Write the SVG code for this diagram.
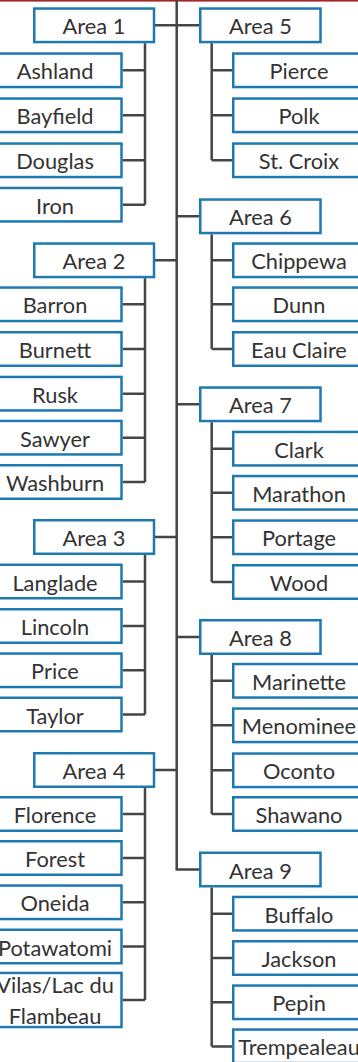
<svg xmlns="http://www.w3.org/2000/svg" width="358" height="1062" viewBox="0 0 358 1062">
<style>
.b{fill:#fff;stroke:#1c7ab0;stroke-width:2.5}
.t{font-family:Lato,"Open Sans","Liberation Sans",sans-serif;font-size:21.8px;font-weight:400;fill:#333;text-anchor:middle}
.c{fill:none;stroke:#454545;stroke-width:2.5}
</style>
<rect x="0" y="0" width="358" height="1.6" fill="#a3262b"/>
<g id="connectors" class="c">
<path d="M176.7 0V869.5H199"/>
<path d="M155 25.3H199M155 260.3H176.7M155 537H176.7M155 770H176.7M176.7 216.3H199M176.7 404.3H199M176.7 637H199"/>
<path d="M145 43.3V204.7M122.7 70.3H145M122.7 115.3H145M122.7 160.3H145M122.7 204.7H145"/>
<path d="M145 278.3V482M122.7 304.3H145M122.7 349H145M122.7 393.7H145M122.7 437.7H145M122.7 482H145"/>
<path d="M145 555V714.5M122.7 581.5H145M122.7 626H145M122.7 670.3H145M122.7 714.5H145"/>
<path d="M145 788V1000M122.7 814H145M122.7 858H145M122.7 902.3H145M122.7 946.5H145M122.7 1000H145"/>
<path d="M211.7 43.3V160.3M211.7 70.3H232M211.7 115.3H232M211.7 160.3H232"/>
<path d="M211.7 234.3V349M211.7 260.3H232M211.7 304.3H232M211.7 349H232"/>
<path d="M211.7 422.3V582M211.7 448.7H232M211.7 492.8H232M211.7 537.3H232M211.7 582H232"/>
<path d="M211.7 655V814M211.7 680.8H232M211.7 725.3H232M211.7 770.3H232M211.7 814H232"/>
<path d="M211.7 887.5V1046.5M211.7 913.7H232M211.7 958H232M211.7 1002.3H232M211.7 1046.5H232"/>
</g>
<g id="area1"><rect class="b" x="34.25" y="8.55" width="119.75" height="33.5"/><text class="t" x="94" y="34.3">Area 1</text></g>
<g id="ashland"><rect class="b" x="-10" y="53.55" width="131.5" height="33.5"/><text class="t" x="55" y="79.3">Ashland</text></g>
<g id="bayfield"><rect class="b" x="-10" y="98.55" width="131.5" height="33.5"/><text class="t" x="55" y="124.3">Bayfield</text></g>
<g id="douglas"><rect class="b" x="-10" y="143.55" width="131.5" height="33.5"/><text class="t" x="55" y="169.3">Douglas</text></g>
<g id="iron"><rect class="b" x="-10" y="187.95" width="131.5" height="33.5"/><text class="t" x="55" y="213.7">Iron</text></g>
<g id="area2"><rect class="b" x="34.25" y="243.55" width="119.75" height="33.5"/><text class="t" x="94" y="269.3">Area 2</text></g>
<g id="barron"><rect class="b" x="-10" y="287.55" width="131.5" height="33.5"/><text class="t" x="55" y="313.3">Barron</text></g>
<g id="burnett"><rect class="b" x="-10" y="332.25" width="131.5" height="33.5"/><text class="t" x="55" y="358">Burnett</text></g>
<g id="rusk"><rect class="b" x="-10" y="376.95" width="131.5" height="33.5"/><text class="t" x="55" y="402.7">Rusk</text></g>
<g id="sawyer"><rect class="b" x="-10" y="420.95" width="131.5" height="33.5"/><text class="t" x="55" y="446.7">Sawyer</text></g>
<g id="washburn"><rect class="b" x="-10" y="465.25" width="131.5" height="33.5"/><text class="t" x="55" y="491">Washburn</text></g>
<g id="area3"><rect class="b" x="34.25" y="520.25" width="119.75" height="33.5"/><text class="t" x="94" y="546">Area 3</text></g>
<g id="langlade"><rect class="b" x="-10" y="564.75" width="131.5" height="33.5"/><text class="t" x="55" y="590.5">Langlade</text></g>
<g id="lincoln"><rect class="b" x="-10" y="609.25" width="131.5" height="33.5"/><text class="t" x="55" y="635">Lincoln</text></g>
<g id="price"><rect class="b" x="-10" y="653.55" width="131.5" height="33.5"/><text class="t" x="55" y="679.3">Price</text></g>
<g id="taylor"><rect class="b" x="-10" y="697.75" width="131.5" height="33.5"/><text class="t" x="55" y="723.5">Taylor</text></g>
<g id="area4"><rect class="b" x="34.25" y="753.25" width="119.75" height="33.5"/><text class="t" x="94" y="779">Area 4</text></g>
<g id="florence"><rect class="b" x="-10" y="797.25" width="131.5" height="33.5"/><text class="t" x="55" y="823">Florence</text></g>
<g id="forest"><rect class="b" x="-10" y="841.25" width="131.5" height="33.5"/><text class="t" x="55" y="867">Forest</text></g>
<g id="oneida"><rect class="b" x="-10" y="885.55" width="131.5" height="33.5"/><text class="t" x="55" y="911.3">Oneida</text></g>
<g id="potawatomi"><rect class="b" x="-10" y="929.75" width="131.5" height="33.5"/><text class="t" x="55" y="955.5">Potawatomi</text></g>
<g id="vilas"><rect class="b" x="-10" y="972.95" width="131.5" height="54.1"/><text class="t" x="55" y="993">Vilas/Lac du</text><text class="t" x="55" y="1024">Flambeau</text></g>
<g id="area5"><rect class="b" x="200.25" y="8.55" width="120.25" height="33.5"/><text class="t" x="260.5" y="34.3">Area 5</text></g>
<g id="pierce"><rect class="b" x="233.25" y="53.55" width="131.5" height="33.5"/><text class="t" x="299" y="79.3">Pierce</text></g>
<g id="polk"><rect class="b" x="233.25" y="98.55" width="131.5" height="33.5"/><text class="t" x="299" y="124.3">Polk</text></g>
<g id="stcroix"><rect class="b" x="233.25" y="143.55" width="131.5" height="33.5"/><text class="t" x="299" y="169.3">St. Croix</text></g>
<g id="area6"><rect class="b" x="200.25" y="199.55" width="120.25" height="33.5"/><text class="t" x="260.5" y="225.3">Area 6</text></g>
<g id="chippewa"><rect class="b" x="233.25" y="243.55" width="131.5" height="33.5"/><text class="t" x="299" y="269.3">Chippewa</text></g>
<g id="dunn"><rect class="b" x="233.25" y="287.55" width="131.5" height="33.5"/><text class="t" x="299" y="313.3">Dunn</text></g>
<g id="eauclaire"><rect class="b" x="233.25" y="332.25" width="131.5" height="33.5"/><text class="t" x="299" y="358">Eau Claire</text></g>
<g id="area7"><rect class="b" x="200.25" y="387.55" width="120.25" height="33.5"/><text class="t" x="260.5" y="413.3">Area 7</text></g>
<g id="clark"><rect class="b" x="233.25" y="431.95" width="131.5" height="33.5"/><text class="t" x="299" y="457.7">Clark</text></g>
<g id="marathon"><rect class="b" x="233.25" y="476.05" width="131.5" height="33.5"/><text class="t" x="299" y="501.8">Marathon</text></g>
<g id="portage"><rect class="b" x="233.25" y="520.55" width="131.5" height="33.5"/><text class="t" x="299" y="546.3">Portage</text></g>
<g id="wood"><rect class="b" x="233.25" y="565.25" width="131.5" height="33.5"/><text class="t" x="299" y="591">Wood</text></g>
<g id="area8"><rect class="b" x="200.25" y="620.25" width="120.25" height="33.5"/><text class="t" x="260.5" y="646">Area 8</text></g>
<g id="marinette"><rect class="b" x="233.25" y="664.05" width="131.5" height="33.5"/><text class="t" x="299" y="689.8">Marinette</text></g>
<g id="menominee"><rect class="b" x="233.25" y="708.55" width="131.5" height="33.5"/><text class="t" x="299" y="734.3">Menominee</text></g>
<g id="oconto"><rect class="b" x="233.25" y="753.55" width="131.5" height="33.5"/><text class="t" x="299" y="779.3">Oconto</text></g>
<g id="shawano"><rect class="b" x="233.25" y="797.25" width="131.5" height="33.5"/><text class="t" x="299" y="823">Shawano</text></g>
<g id="area9"><rect class="b" x="200.25" y="852.75" width="120.25" height="33.5"/><text class="t" x="260.5" y="878.5">Area 9</text></g>
<g id="buffalo"><rect class="b" x="233.25" y="896.95" width="131.5" height="33.5"/><text class="t" x="299" y="922.7">Buffalo</text></g>
<g id="jackson"><rect class="b" x="233.25" y="941.25" width="131.5" height="33.5"/><text class="t" x="299" y="967">Jackson</text></g>
<g id="pepin"><rect class="b" x="233.25" y="985.55" width="131.5" height="33.5"/><text class="t" x="299" y="1011.3">Pepin</text></g>
<g id="trempealeau"><rect class="b" x="233.25" y="1029.55" width="131.5" height="33.5"/><text class="t" x="299" y="1054.5">Trempealeau</text></g>
</svg>
